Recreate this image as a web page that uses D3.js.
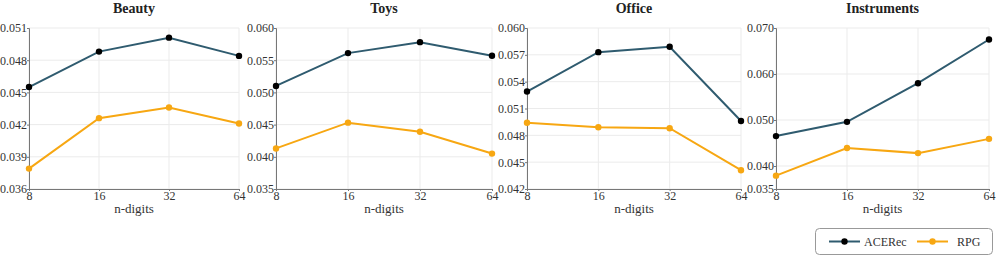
<!DOCTYPE html>
<html>
<head>
<meta charset="utf-8">
<script src="https://cdn.jsdelivr.net/npm/d3@7"></script>
<style>
  body { margin: 0; background: #fff; }
  svg { display: block; }
</style>
</head>
<body>
<div id="chart"></div>
<script>
// data
const digits = ['8', '16', '32', '64'];
const datasets = ['Beauty', 'Toys', 'Office', 'Instruments'];

const acerec = {
  Beauty:      [0.0455, 0.0488, 0.0501, 0.0484],
  Toys:        [0.0510, 0.0561, 0.0578, 0.0557],
  Office:      [0.0529, 0.0573, 0.0579, 0.0496],
  Instruments: [0.0465, 0.0496, 0.0580, 0.0675]
};
const rpg = {
  Beauty:      [0.0379, 0.0426, 0.0436, 0.0421],
  Toys:        [0.0413, 0.0453, 0.0439, 0.0405],
  Office:      [0.0494, 0.0489, 0.0488, 0.0441],
  Instruments: [0.0379, 0.0439, 0.0428, 0.0459]
};

const yTicks = {
  Beauty:      [0.036, 0.039, 0.042, 0.045, 0.048, 0.051],
  Toys:        [0.035, 0.040, 0.045, 0.050, 0.055, 0.060],
  Office:      [0.042, 0.045, 0.048, 0.051, 0.054, 0.057, 0.060],
  Instruments: [0.035, 0.040, 0.050, 0.060, 0.070]
};

const colors = { acerec: '#2f5b6f', acerecDot: '#000', rpg: '#f7a712' };
const FONT = '"Liberation Serif"';

// layout
const W = 996, H = 257;
const plotTop = 28, plotBottom = 189;
const panels = {
  Beauty:      { x0: 29,  x1: 239 },
  Toys:        { x0: 276, x1: 492 },
  Office:      { x0: 527, x1: 741 },
  Instruments: { x0: 776, x1: 989 }
};

const svg = d3.select('#chart')
  .append('svg')
  .attr('width', W)
  .attr('height', H);

datasets.forEach((name) => {
  const p = panels[name];
  const ticks = yTicks[name];

  const x = d3.scalePoint()
    .domain(digits)
    .range([p.x0, p.x1]);

  const y = d3.scaleLinear()
    .domain([ticks[0], ticks[ticks.length - 1]])
    .range([plotBottom, plotTop]);

  const g = svg.append('g');

  // grid
  g.append('g')
    .selectAll('line')
    .data(ticks)
    .join('line')
      .attr('x1', p.x0).attr('x2', p.x1)
      .attr('y1', (d) => y(d)).attr('y2', (d) => y(d))
      .attr('stroke', '#ebebeb');
  g.append('g')
    .selectAll('line')
    .data(digits)
    .join('line')
      .attr('x1', (d) => x(d)).attr('x2', (d) => x(d))
      .attr('y1', plotTop).attr('y2', plotBottom)
      .attr('stroke', '#ebebeb');

  // axes
  const yAxis = g.append('g')
    .attr('transform', `translate(${p.x0},0)`)
    .call(d3.axisLeft(y).tickValues(ticks).tickFormat(d3.format('.3f')).tickSize(2).tickPadding(0));
  const xAxis = g.append('g')
    .attr('transform', `translate(0,${plotBottom})`)
    .call(d3.axisBottom(x).tickSize(2).tickPadding(0));
  [yAxis, xAxis].forEach((a) => {
    a.attr('font-family', null).attr('font-size', null);
    a.select('.domain').attr('stroke', '#777');
    a.selectAll('.tick line').attr('stroke', '#777');
    a.selectAll('.tick text').attr('fill', '#333').style('font-size', '12px');
  });

  // title + x label
  g.append('text')
    .attr('x', (p.x0 + p.x1) / 2)
    .attr('y', 13)
    .attr('text-anchor', 'middle')
    .style('font-size', '14px')
    .style('font-weight', 'bold')
    .attr('fill', '#222')
    .text(name);

  g.append('text')
    .attr('x', (p.x0 + p.x1) / 2)
    .attr('y', 213)
    .attr('text-anchor', 'middle')
    .style('font-size', '13px')
    .attr('fill', '#333')
    .text('n-digits');

  // lines
  const line = d3.line()
    .x((d, i) => x(digits[i]))
    .y((d) => y(d));

  g.append('path')
    .datum(acerec[name])
    .attr('d', line)
    .attr('fill', 'none')
    .attr('stroke', colors.acerec)
    .attr('stroke-width', 2);
  g.append('path')
    .datum(rpg[name])
    .attr('d', line)
    .attr('fill', 'none')
    .attr('stroke', colors.rpg)
    .attr('stroke-width', 2);

  g.selectAll('circle.a')
    .data(acerec[name])
    .join('circle')
      .attr('class', 'a')
      .attr('cx', (d, i) => x(digits[i]))
      .attr('cy', (d) => y(d))
      .attr('r', 3.2)
      .attr('fill', colors.acerecDot);
  g.selectAll('circle.r')
    .data(rpg[name])
    .join('circle')
      .attr('class', 'r')
      .attr('cx', (d, i) => x(digits[i]))
      .attr('cy', (d) => y(d))
      .attr('r', 3.2)
      .attr('fill', colors.rpg);
});

// LEGEND
const legend = svg.append('g');
legend.append('rect')
  .attr('x', 815.5).attr('y', 228.5)
  .attr('width', 177).attr('height', 26)
  .attr('rx', 4)
  .attr('fill', '#fff')
  .attr('stroke', '#999');

const items = [
  { label: 'ACERec', line: colors.acerec, dot: colors.acerecDot, x: 829 },
  { label: 'RPG', line: colors.rpg, dot: colors.rpg, x: 917 }
];
items.forEach((it) => {
  legend.append('line')
    .attr('x1', it.x).attr('x2', it.x + 31)
    .attr('y1', 241.5).attr('y2', 241.5)
    .attr('stroke', it.line).attr('stroke-width', 2);
  legend.append('circle')
    .attr('cx', it.x + 15.5).attr('cy', 241.5)
    .attr('r', 3.2).attr('fill', it.dot);
  legend.append('text')
    .attr('x', it.x + (it.label === 'RPG' ? 40 : 35))
    .attr('y', 246)
    .style('font-size', '12px')
    .attr('fill', '#333')
    .text(it.label);
});

// every text in the serif face
svg.selectAll('text').style('font-family', FONT);
</script>
</body>
</html>
